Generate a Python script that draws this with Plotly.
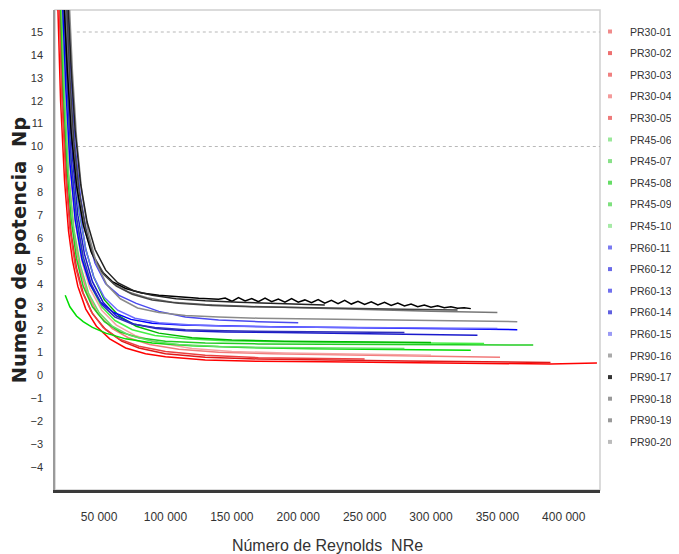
import plotly.graph_objects as go

# ---------------- data ----------------
names = ["PR30-01", "PR30-02", "PR30-03", "PR30-04", "PR30-05",
         "PR45-06", "PR45-07", "PR45-08", "PR45-09", "PR45-10",
         "PR60-11", "PR60-12", "PR60-13", "PR60-14", "PR60-15",
         "PR90-16", "PR90-17", "PR90-18", "PR90-19", "PR90-20"]

re_01 = [18500, 21000, 24000, 27000, 30000, 34000, 40000, 48000, 58000, 70000, 85000, 100000, 130000, 170000, 220000, 280000, 340000, 390000, 425000]
np_01 = [17, 12, 8.5, 6.3, 5.0, 3.9, 2.9, 2.15, 1.6, 1.2, 0.95, 0.82, 0.68, 0.62, 0.6, 0.57, 0.55, 0.5, 0.55]
re_02 = [20000, 23000, 26000, 29000, 33000, 38000, 45000, 55000, 67000, 80000, 100000, 130000, 170000, 220000, 280000, 340000, 390000]
np_02 = [17, 11.5, 8.2, 6.2, 4.7, 3.6, 2.7, 2.0, 1.5, 1.2, 0.95, 0.8, 0.72, 0.67, 0.63, 0.6, 0.57]
re_03 = [21000, 24000, 27000, 31000, 35000, 41000, 49000, 60000, 72000, 88000, 110000, 140000, 180000, 230000, 290000, 352000]
np_03 = [17, 12, 8.8, 6.3, 4.8, 3.6, 2.7, 2.05, 1.65, 1.35, 1.15, 1.02, 0.95, 0.9, 0.85, 0.8]
re_04 = [22000, 25000, 28000, 32000, 37000, 43000, 52000, 63000, 77000, 95000, 120000, 150000, 190000, 240000, 300000]
np_04 = [17, 12.5, 9.2, 6.7, 5.0, 3.8, 2.85, 2.2, 1.75, 1.42, 1.18, 1.05, 0.98, 0.92, 0.88]
re_05 = [19500, 22000, 25000, 28000, 32000, 37000, 44000, 53000, 65000, 80000, 100000, 130000, 170000, 210000, 250000]
np_05 = [17, 12, 8.6, 6.4, 4.8, 3.7, 2.8, 2.1, 1.6, 1.28, 1.05, 0.88, 0.78, 0.74, 0.72]

re_06 = [24500, 28000, 33000, 38000, 45000, 55000, 70000, 90000, 120000, 160000, 210000, 260000, 300000, 330000]
np_06 = [3.5, 3.0, 2.6, 2.35, 2.1, 1.85, 1.6, 1.42, 1.3, 1.22, 1.17, 1.14, 1.12, 1.1]
re_07 = [20500, 23000, 26000, 29000, 33000, 38000, 45000, 54000, 66000, 80000, 100000, 130000, 170000, 220000, 270000, 320000, 377000]
np_07 = [17, 12.5, 9, 6.8, 5.1, 3.9, 3.0, 2.35, 1.9, 1.65, 1.5, 1.42, 1.38, 1.36, 1.35, 1.34, 1.33]
re_08 = [23000, 26000, 29000, 33000, 38000, 44000, 52000, 62000, 75000, 92000, 115000, 145000, 185000, 235000, 290000, 340000]
np_08 = [17, 12.5, 9.2, 6.8, 5.0, 3.9, 3.0, 2.4, 2.0, 1.75, 1.6, 1.52, 1.47, 1.44, 1.42, 1.4]
re_09 = [25000, 28000, 31000, 35000, 40000, 46000, 54000, 65000, 78000, 95000, 120000, 150000, 190000, 240000, 300000]
np_09 = [17, 12.8, 9.6, 7.2, 5.5, 4.3, 3.3, 2.6, 2.15, 1.85, 1.65, 1.55, 1.5, 1.46, 1.44]
re_10 = [21500, 24000, 27000, 31000, 36000, 42000, 50000, 60000, 73000, 90000, 110000, 140000, 180000, 230000, 280000]
np_10 = [17, 12.2, 8.8, 6.4, 4.8, 3.6, 2.75, 2.15, 1.75, 1.5, 1.35, 1.27, 1.22, 1.2, 1.18]

re_11 = [22000, 25000, 28000, 32000, 37000, 43000, 51000, 61000, 74000, 90000, 113000, 140000, 180000, 230000, 290000, 365000]
np_11 = [17, 12.5, 9.3, 6.8, 5.1, 4.0, 3.2, 2.75, 2.45, 2.28, 2.2, 2.16, 2.13, 2.1, 2.05, 2.0]
re_12 = [24000, 27000, 30000, 34000, 39000, 45000, 53000, 63000, 76000, 93000, 115000, 145000, 185000, 235000, 290000, 335000]
np_12 = [17, 12.8, 9.5, 7.0, 5.3, 4.1, 3.2, 2.6, 2.25, 2.05, 1.95, 1.9, 1.88, 1.85, 1.8, 1.76]
re_13 = [26000, 29000, 32000, 36000, 41000, 47000, 55000, 65000, 78000, 95000, 115000, 140000, 170000, 200000]
np_13 = [17, 13, 10, 7.8, 6.1, 4.9, 4.0, 3.5, 3.15, 2.8, 2.55, 2.42, 2.35, 2.3]
re_14 = [23000, 26000, 29000, 33000, 38000, 44000, 52000, 62000, 75000, 92000, 115000, 145000, 185000, 230000, 280000]
np_14 = [17, 12.6, 9.4, 6.9, 5.2, 4.0, 3.1, 2.55, 2.25, 2.1, 2.0, 1.95, 1.92, 1.9, 1.88]
re_15 = [25000, 28000, 31000, 35000, 40000, 46000, 54000, 64000, 77000, 95000, 120000, 150000, 190000, 240000, 300000, 350000]
np_15 = [17, 13, 9.8, 7.3, 5.5, 4.3, 3.4, 2.85, 2.5, 2.3, 2.2, 2.15, 2.12, 2.1, 2.08, 2.05]

re_16 = [24000, 27000, 30000, 34000, 39000, 45000, 52000, 61000, 72000, 86000, 105000, 130000, 160000, 200000, 250000, 300000, 350000]
np_16 = [17, 13, 10.2, 8.0, 6.4, 5.3, 4.5, 4.0, 3.65, 3.4, 3.2, 3.1, 3.02, 2.95, 2.88, 2.8, 2.75]
re_17 = [23000, 26000, 29000, 33000, 38000, 44000, 51000, 60000, 70000, 82000, 95000, 110000, 125000, 140000,
         145000, 150000, 155000, 160000, 165000, 170000, 175000, 180000, 185000, 190000,
         195000, 200000, 205000, 210000, 215000, 220000, 225000, 230000, 235000, 240000,
         245000, 250000, 255000, 260000, 265000, 270000, 275000, 280000, 285000, 290000,
         295000, 300000, 305000, 310000, 315000, 320000, 325000, 330000]
np_17 = [17, 13.4, 10.6, 8.3, 6.6, 5.4, 4.6, 4.1, 3.8, 3.6, 3.5, 3.42, 3.37, 3.33,
         3.38, 3.24, 3.4, 3.26, 3.36, 3.22, 3.38, 3.22, 3.34, 3.2,
         3.36, 3.2, 3.3, 3.18, 3.32, 3.16, 3.28, 3.14, 3.28, 3.12,
         3.24, 3.1, 3.22, 3.08, 3.2, 3.06, 3.16, 3.04, 3.12, 3.0,
         3.08, 2.98, 3.04, 2.96, 3.0, 2.94, 2.96, 2.92]
re_18 = [25000, 28000, 31000, 35000, 40000, 46000, 54000, 63000, 75000, 90000, 110000, 135000, 165000, 200000, 240000, 280000, 320000]
np_18 = [17, 13, 10.2, 8.0, 6.4, 5.2, 4.4, 3.9, 3.55, 3.3, 3.15, 3.06, 3.0, 2.96, 2.92, 2.89, 2.86]
re_19 = [27000, 30000, 33000, 37000, 42000, 48000, 56000, 66000, 79000, 95000, 115000, 140000, 170000, 210000, 260000, 310000, 365000]
np_19 = [17, 13.2, 10.4, 8.0, 6.2, 4.9, 3.95, 3.35, 2.95, 2.75, 2.62, 2.55, 2.5, 2.47, 2.43, 2.4, 2.35]
re_20 = [26000, 29000, 32000, 36000, 41000, 47000, 55000, 64000, 76000, 90000, 108000, 130000, 155000, 185000, 220000]
np_20 = [17, 13.4, 10.7, 8.4, 6.7, 5.5, 4.6, 4.05, 3.7, 3.5, 3.35, 3.26, 3.2, 3.14, 3.08]

re_all = [re_01, re_02, re_03, re_04, re_05, re_06, re_07, re_08, re_09, re_10,
          re_11, re_12, re_13, re_14, re_15, re_16, re_17, re_18, re_19, re_20]
np_all = [np_01, np_02, np_03, np_04, np_05, np_06, np_07, np_08, np_09, np_10,
          np_11, np_12, np_13, np_14, np_15, np_16, np_17, np_18, np_19, np_20]

line_colors = ["#ff0000", "#e01818", "#f27a7a", "#f5a3a3", "#ea4040",
               "#00dd00", "#22cc22", "#44ee44", "#00b800", "#66dd66",
               "#0000ff", "#1a1acc", "#4a4aee", "#2f2fbb", "#6a6aff",
               "#777777", "#000000", "#444444", "#8a8a8a", "#222222"]
legend_colors = ["#f08a8a", "#ee7070", "#f08080", "#f49a9a", "#ee7a7a",
                 "#9ae89a", "#88e088", "#66dd66", "#7ee07e", "#a6eaa6",
                 "#7a7af0", "#6a6ae8", "#7070ee", "#6060e0", "#9a9af5",
                 "#aaaaaa", "#333333", "#999999", "#999999", "#bbbbbb"]

x_tickvals = [50000, 100000, 150000, 200000, 250000, 300000, 350000, 400000]
x_ticktext = ["50 000", "100 000", "150 000", "200 000", "250 000", "300 000", "350 000", "400 000"]
y_tickvals = list(range(-4, 16))

# ---------------- figure ----------------
fig = go.Figure()

for i in range(len(names)):
    fig.add_trace(go.Scatter(x=re_all[i], y=np_all[i], mode="lines",
                             line=dict(color=line_colors[i], width=1.5),
                             showlegend=False, hoverinfo="skip"))

for i in range(len(names)):
    fig.add_trace(go.Scatter(x=[None], y=[None], mode="markers", name=names[i],
                             legendgroup=names[i],
                             marker=dict(color=legend_colors[i], size=4, symbol="square")))

x_range = [16800, 427300]
y_range = [-5.0, 15.96]

# plot border (light grey)
fig.add_shape(type="rect", xref="paper", yref="paper", x0=0, y0=0, x1=1, y1=1,
              line=dict(color="#d0d0d0", width=1.5), layer="below")
# dotted horizontal guides
for yv in [15, 10]:
    fig.add_shape(type="line", xref="paper", yref="y", x0=0.04, x1=1, y0=yv, y1=yv,
                  line=dict(color="#b8b8b8", width=1.2, dash="dot"), layer="below")

# page body has an 8px default margin, so the figure is sized to fit 679x554
fig.update_layout(
    width=671, height=546,
    margin=dict(l=47, r=79, t=2, b=64, autoexpand=False),
    paper_bgcolor="white", plot_bgcolor="white",
    font=dict(family="Liberation Sans, Arial, sans-serif", color="#333333"),
    legend=dict(x=0.9817, xanchor="left", y=1 - 7 / 480, yanchor="top",
                xref="paper", yref="paper",
                font=dict(size=10.5, color="#333333"),
                tracegroupgap=2.6, itemwidth=30,
                bgcolor="rgba(0,0,0,0)", borderwidth=0),
    xaxis=dict(range=x_range, tickvals=x_tickvals, ticktext=x_ticktext,
               showgrid=False, zeroline=False, showline=True,
               linecolor="#3a3a3a", linewidth=3, ticks="",
               ticklabelstandoff=14,
               tickfont=dict(size=12, color="#333333"),
               title=dict(text="Número de Reynolds  NRe",
                          font=dict(size=16, color="#333333"), standoff=18)),
    yaxis=dict(range=y_range, tickvals=y_tickvals,
               showgrid=False, zeroline=False, showline=True,
               linecolor="#9a9a9a", linewidth=1.5, ticks="",
               ticklabelstandoff=8,
               tickfont=dict(size=11, color="#333333"),
               title=dict(text="Numero de potencia  Np",
                          font=dict(size=19.5, color="#222222",
                                    family="DejaVu Sans, Verdana, sans-serif", weight="bold"),
                          standoff=4)),
)

fig.write_html("out.html")
